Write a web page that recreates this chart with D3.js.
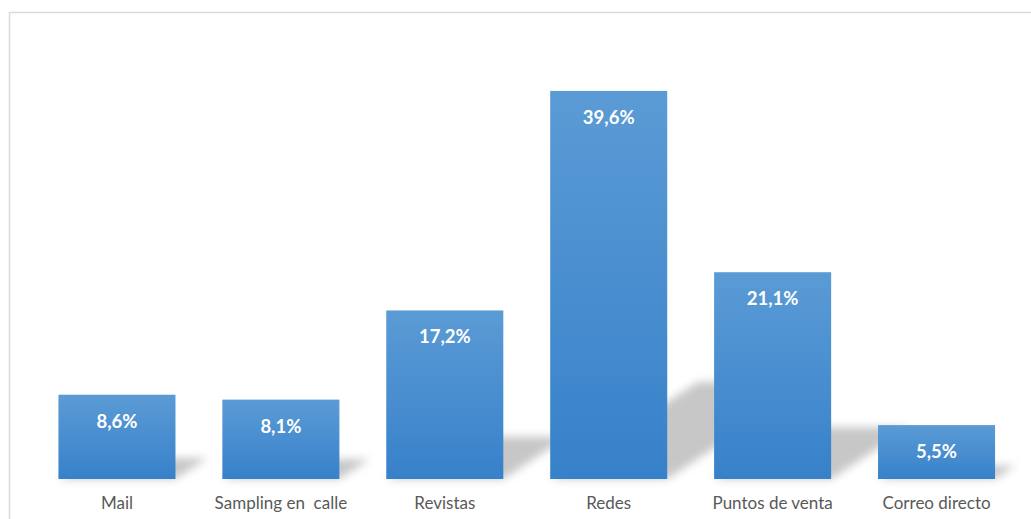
<!DOCTYPE html>
<html>
<head>
<meta charset="utf-8">
<script src="https://cdn.jsdelivr.net/npm/d3@7"></script>
<style>
  html, body { margin: 0; padding: 0; background: #ffffff; }
  svg { display: block; }
  .cat { white-space: pre; }
</style>
</head>
<body>
<div id="chart"></div>
<script>
// Canal por el que los encuestados conocieron la marca (%)
const categories = ["Mail", "Sampling en  calle", "Revistas", "Redes", "Puntos de venta", "Correo directo"];
const values = [8.6, 8.1, 17.2, 39.6, 21.1, 5.5];
const valueLabels = ["8,6%", "8,1%", "17,2%", "39,6%", "21,1%", "5,5%"];

const width = 1031, height = 519;
const baseY = 479;

const svg = d3.select("#chart").append("svg")
  .attr("width", width)
  .attr("height", height);

const defs = svg.append("defs");

const grad = defs.append("linearGradient")
  .attr("id", "barFill")
  .attr("x1", 0).attr("y1", 0).attr("x2", 0).attr("y2", 1);
grad.append("stop").attr("offset", "0%").attr("stop-color", "#5b9bd5");
grad.append("stop").attr("offset", "100%").attr("stop-color", "#3781ca");

const blur = defs.append("filter")
  .attr("id", "shadowBlur")
  .attr("x", "-30%").attr("y", "-30%").attr("width", "160%").attr("height", "160%");
blur.append("feGaussianBlur").attr("stdDeviation", 4);

// chart frame
svg.append("rect")
  .attr("x", 9.5).attr("y", 12.5)
  .attr("width", width + 20).attr("height", height + 20)
  .attr("fill", "none")
  .attr("stroke", "#d9d9d9")
  .attr("stroke-width", 1.5);

const x = d3.scaleBand()
  .domain(categories)
  .range([35, 1018.5])
  .paddingInner(0.286)
  .paddingOuter(0.143);

const y = d3.scaleLinear()
  .domain([0, 45])
  .range([baseY, 38]);

const data = categories.map((c, i) => ({ cat: c, value: values[i], label: valueLabels[i] }));

// perspective shadows cast behind the bars toward the upper right
const shadowPath = d => {
  const x0 = x(d.cat), x1 = x0 + x.bandwidth();
  const h = baseY - y(d.value);
  const sh = h * 0.25, dx = h * 0.38;
  return `M${x0},${baseY} L${x1},${baseY} L${x1 + dx},${baseY - sh} L${x0 + dx},${baseY - sh} Z`;
};

svg.append("g")
  .attr("filter", "url(#shadowBlur)")
  .selectAll("path")
  .data(data)
  .join("path")
  .attr("d", shadowPath)
  .attr("fill", "#000")
  .attr("fill-opacity", 0.22);

svg.append("g")
  .selectAll("rect")
  .data(data)
  .join("rect")
  .attr("x", d => x(d.cat))
  .attr("y", d => y(d.value))
  .attr("width", x.bandwidth())
  .attr("height", d => baseY - y(d.value))
  .attr("fill", "url(#barFill)");

svg.append("g")
  .selectAll("text")
  .data(data)
  .join("text")
  .attr("x", d => x(d.cat) + x.bandwidth() / 2)
  .attr("y", d => y(d.value) + 33)
  .attr("text-anchor", "middle")
  .attr("font-family", "Lato, 'Open Sans', sans-serif")
  .attr("font-weight", "bold")
  .attr("font-size", 18.5)
  .attr("fill", "#ffffff")
  .text(d => d.label);

const xAxis = d3.axisBottom(x).tickSize(0).tickPadding(0);
const gx = svg.append("g")
  .attr("transform", `translate(0,${baseY})`)
  .call(xAxis);
gx.select(".domain").remove();
gx.selectAll("text")
  .attr("class", "cat")
  .attr("dy", null)
  .attr("y", 30)
  .attr("font-family", "Lato, 'Open Sans', sans-serif")
  .attr("font-size", 17)
  .attr("fill", "#595959");
</script>
</body>
</html>
